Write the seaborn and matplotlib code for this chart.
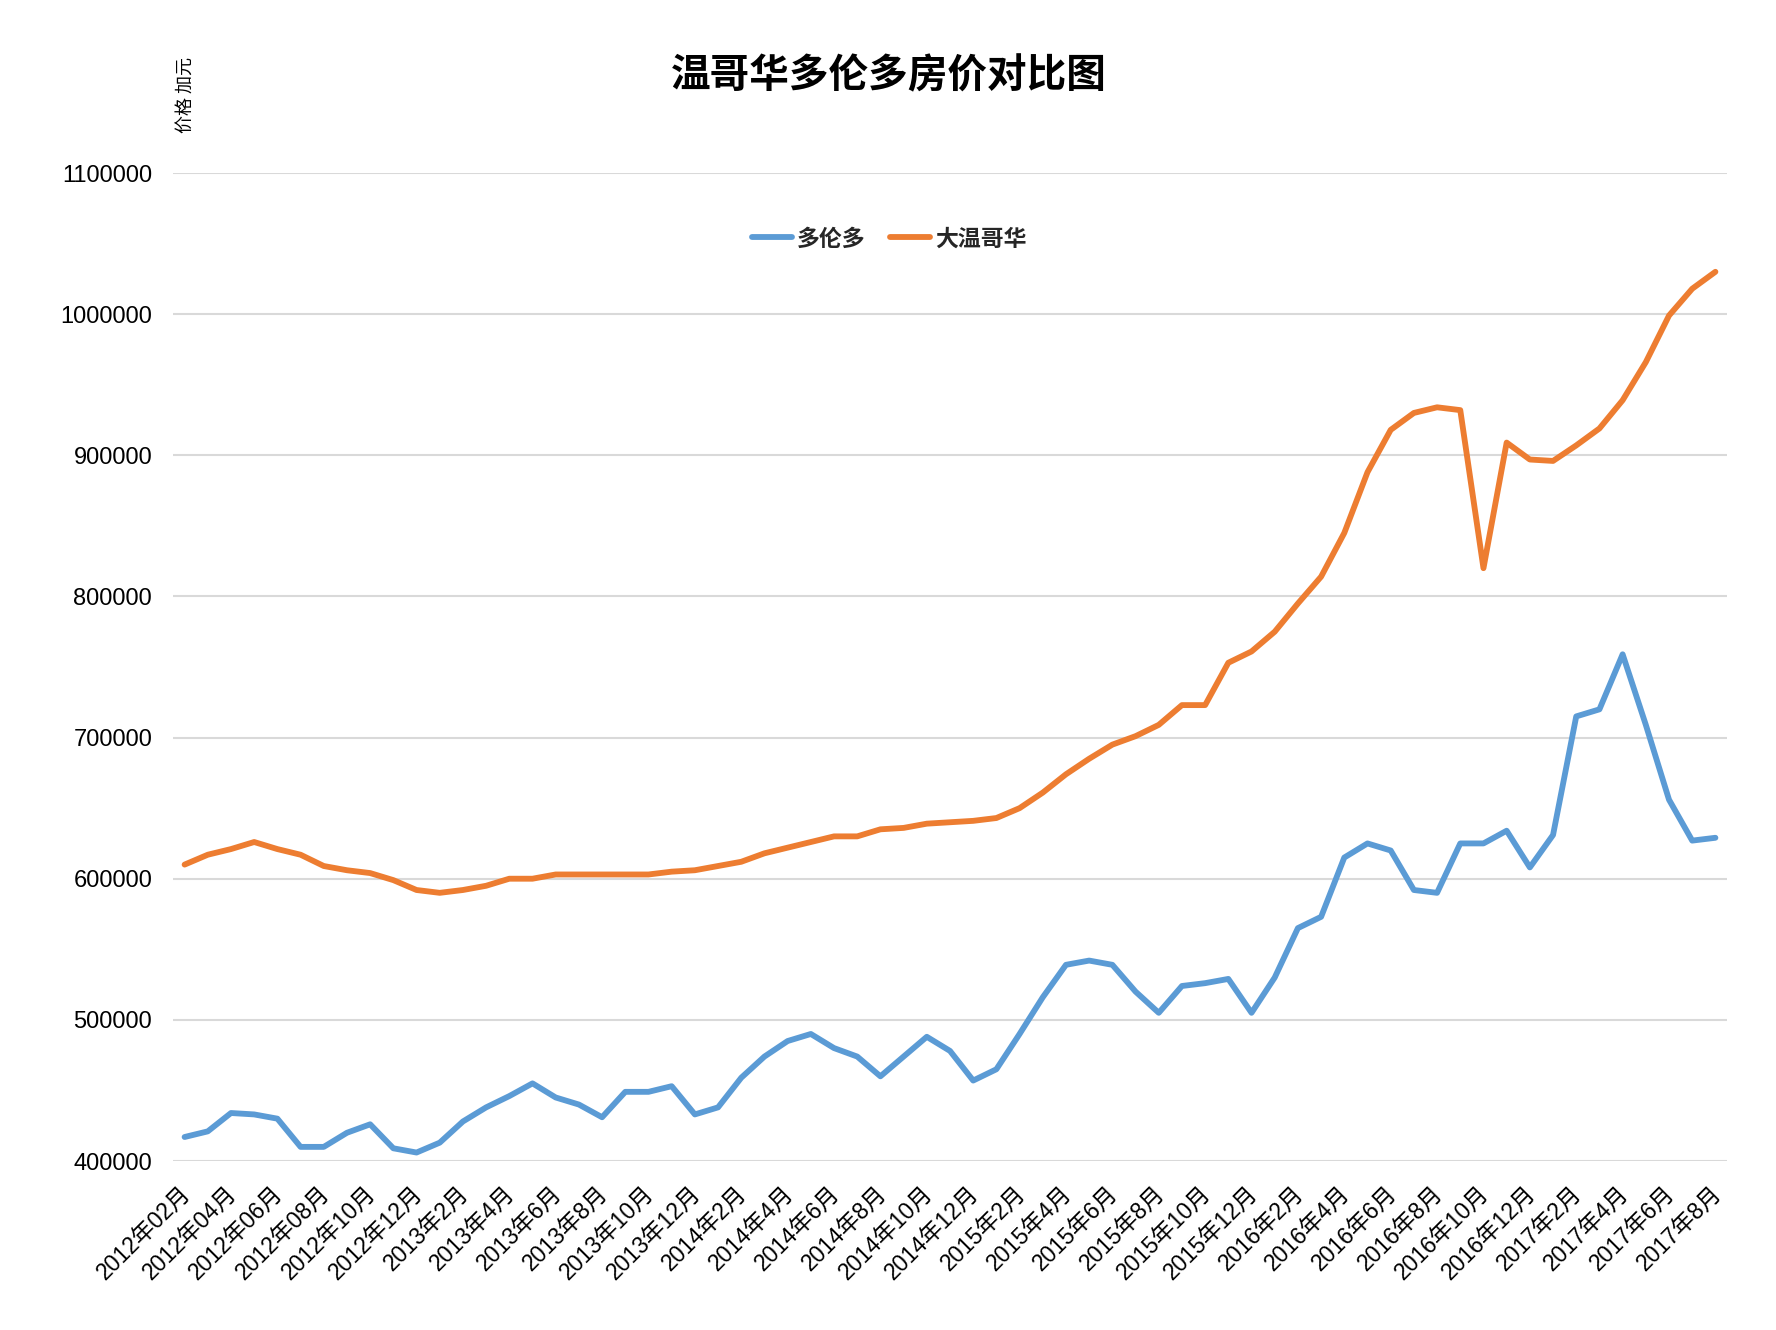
import matplotlib
matplotlib.use('Agg')
import matplotlib.pyplot as plt
import matplotlib.transforms as mtransforms
import numpy as np
import pandas as pd
import seaborn as sns

# ---------------- data ----------------
tick_labels = [
    '2012年02月', '2012年04月', '2012年06月', '2012年08月', '2012年10月', '2012年12月',
    '2013年2月', '2013年4月', '2013年6月', '2013年8月', '2013年10月', '2013年12月',
    '2014年2月', '2014年4月', '2014年6月', '2014年8月', '2014年10月', '2014年12月',
    '2015年2月', '2015年4月', '2015年6月', '2015年8月', '2015年10月', '2015年12月',
    '2016年2月', '2016年4月', '2016年6月', '2016年8月', '2016年10月', '2016年12月',
    '2017年2月', '2017年4月', '2017年6月', '2017年8月',
]

toronto = [
    417000, 421000, 434000, 433000, 430000, 410000, 410000, 420000, 426000, 409000,
    406000, 413000, 428000, 438000, 446000, 455000, 445000, 440000, 431000, 449000,
    449000, 453000, 433000, 438000, 459000, 474000, 485000, 490000, 480000, 474000,
    460000, 474000, 488000, 478000, 457000, 465000, 490000, 516000, 539000, 542000,
    539000, 520000, 505000, 524000, 526000, 529000, 505000, 530000, 565000, 573000,
    615000, 625000, 620000, 592000, 590000, 625000, 625000, 634000, 608000, 631000,
    715000, 720000, 759000, 709000, 656000, 627000, 629000,
]

vancouver = [
    610000, 617000, 621000, 626000, 621000, 617000, 609000, 606000, 604000, 599000,
    592000, 590000, 592000, 595000, 600000, 600000, 603000, 603000, 603000, 603000,
    603000, 605000, 606000, 609000, 612000, 618000, 622000, 626000, 630000, 630000,
    635000, 636000, 639000, 640000, 641000, 643000, 650000, 661000, 674000, 685000,
    695000, 701000, 709000, 723000, 723000, 753000, 761000, 775000, 795000, 814000,
    845000, 888000, 918000, 930000, 934000, 932000, 820000, 909000, 897000, 896000,
    907000, 919000, 939000, 966000, 999000, 1018000, 1030000,
]

series_names = ['多伦多', '大温哥华']
y_ticks = [400000, 500000, 600000, 700000, 800000, 900000, 1000000, 1100000]

title = '温哥华多伦多房价对比图'
ylabel = '价格 加元'

# ---------------- build frame ----------------
n = len(toronto)
df = pd.DataFrame({
    'idx': list(range(n)) * 2,
    'price': toronto + vancouver,
    'city': [series_names[0]] * n + [series_names[1]] * n,
})

# ---------------- style ----------------
sns.set_theme(style='white')
plt.rcParams['font.family'] = ['Liberation Sans', 'Noto Sans CJK SC', 'DejaVu Sans']
plt.rcParams['axes.unicode_minus'] = False

W, H = 1776, 1330
fig = plt.figure(figsize=(W / 100, H / 100), dpi=100)
ax = fig.add_axes([173 / W, 1 - 1161 / H, (1727 - 173) / W, (1161 - 173) / H])

palette = {series_names[0]: '#5B9BD5', series_names[1]: '#ED7D31'}
sns.lineplot(data=df, x='idx', y='price', hue='city', hue_order=series_names,
             palette=palette, linewidth=4.2, ax=ax, legend=False,
             solid_capstyle='round', solid_joinstyle='round')

ax.set_xlim(-0.5, n - 0.5)
ax.set_ylim(y_ticks[0], y_ticks[-1])
ax.set_yticks(y_ticks)
ax.set_yticklabels([str(v) for v in y_ticks], fontsize=17, color='black')
ax.set_xticks(list(range(0, n, 2)))
ax.set_xticklabels(tick_labels, rotation=45, ha='right', va='top',
                   rotation_mode='anchor', fontsize=16.5, color='black')
ax.tick_params(axis='both', length=0)
ax.tick_params(axis='y', pad=15)
ax.tick_params(axis='x', pad=15)
offset = mtransforms.ScaledTranslation(-6 / 100, 0, fig.dpi_scale_trans)
for lbl in ax.get_xticklabels():
    lbl.set_transform(lbl.get_transform() + offset)
ax.set_xlabel('')
ax.set_ylabel('')
for s in ax.spines.values():
    s.set_visible(False)
ax.grid(axis='y', color='#D9D9D9', linewidth=1.5)
ax.grid(axis='x', visible=False)
ax.set_axisbelow(True)

# title
fig.text(889 / W, 1 - 76 / H, title, ha='center', va='center', fontsize=28.5,
         fontweight='bold', family=['Noto Sans CJK SC', 'DejaVu Sans'], color='black')

# y label
fig.text(186 / W, 1 - 95 / H, ylabel, ha='center', va='center', rotation=90,
         fontsize=13, fontweight='medium', family=['Noto Sans CJK SC', 'DejaVu Sans'], color='black')

# legend
handles = ax.get_lines()[:2]
leg = fig.legend(handles, series_names, loc='center', bbox_to_anchor=(889 / W, 1 - 239 / H),
                 ncol=2, frameon=False, handlelength=1.75, handletextpad=0.2,
                 columnspacing=1.1,
                 prop={'family': ['Noto Sans CJK SC', 'DejaVu Sans'], 'weight': 'bold', 'size': 16.5})

fig.savefig('out.png', dpi=100, facecolor='white')
